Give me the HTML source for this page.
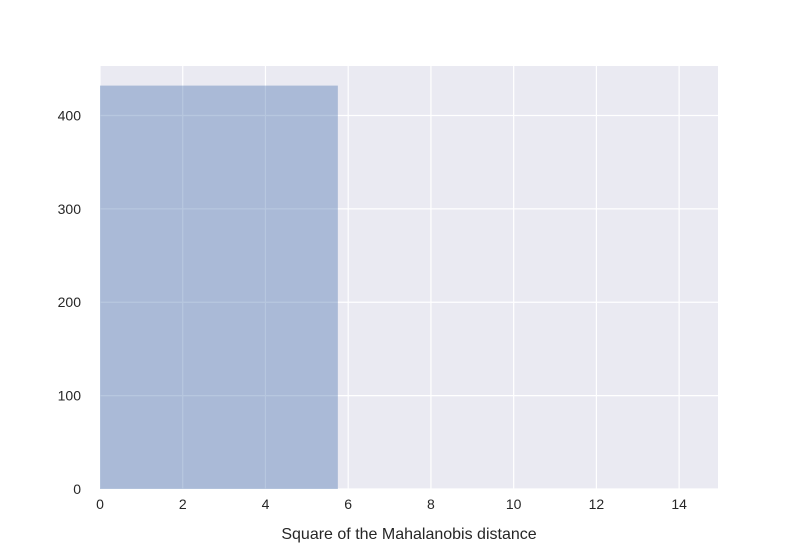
<!DOCTYPE html>
<html><head><meta charset="utf-8"><style>
body{margin:0;background:#fff;}
svg text{font-family:"Liberation Sans",sans-serif;fill:#262626;}
</style></head><body>
<svg id="chart" width="800" height="550" xmlns="http://www.w3.org/2000/svg">
<rect x="100" y="66" width="618" height="423" fill="#eaeaf2"/>
<g id="grid"></g>
<g id="bars"></g>
<g id="ticks"></g>
<text x="409" y="539" font-size="16" text-anchor="middle">Square of the Mahalanobis distance</text>
</svg>
<script>
const binEdges = [0, 5.75];
const binCounts = [432];
const xTicks = [0, 2, 4, 6, 8, 10, 12, 14];
const yTicks = [0, 100, 200, 300, 400];
const X0 = 100, X1 = 718, Y0 = 489, Y1 = 66, xMax = 14.94, yMax = 453;
function sx(v){return X0 + v/xMax*(X1-X0);}
function sy(v){return Y0 - v/yMax*(Y0-Y1);}
const NS = "http://www.w3.org/2000/svg";
const grid = document.getElementById('grid'), bars = document.getElementById('bars'), ticks = document.getElementById('ticks');
function mk(tag, attrs){const e=document.createElementNS(NS,tag);for(const k in attrs)e.setAttribute(k,attrs[k]);return e;}
xTicks.forEach(t=>{
  const l=mk('line',{x1:sx(t),x2:sx(t),y1:Y1,y2:Y0,stroke:'#fff','stroke-width':1.2});
  
  
  grid.appendChild(l);
  const tx=mk('text',{x:sx(t),y:Y0+20,'font-size':14,'text-anchor':'middle'});
  tx.textContent=t;
  
  
  ticks.appendChild(tx);
});
yTicks.forEach(t=>{
  const l=mk('line',{x1:X0,x2:X1,y1:sy(t),y2:sy(t),stroke:'#fff','stroke-width':1.2});
  
  
  grid.appendChild(l);
  const tx=mk('text',{x:X0-19,y:sy(t)+5,'font-size':14,'text-anchor':'end'});
  tx.textContent=t;
  
  
  ticks.appendChild(tx);
});
binCounts.forEach((c,i)=>{
  const r=mk('rect',{x:sx(binEdges[i]),y:sy(c),width:sx(binEdges[i+1])-sx(binEdges[i]),height:sy(0)-sy(c),fill:'#4c72b0','fill-opacity':0.4});
  
  
  bars.appendChild(r);
});
</script>
</body></html>
